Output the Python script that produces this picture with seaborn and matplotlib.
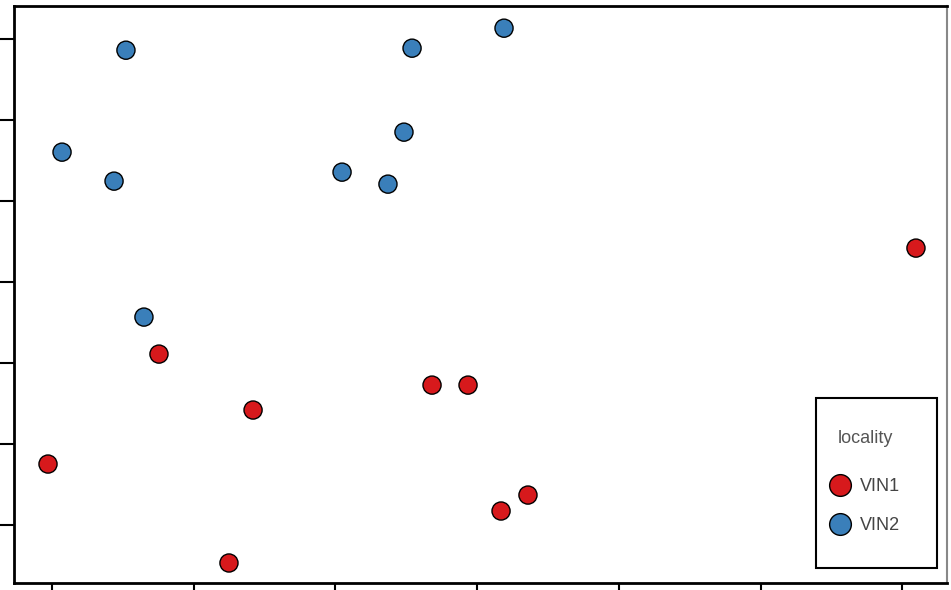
import matplotlib
matplotlib.use("Agg")
import matplotlib.pyplot as plt
from matplotlib.patches import Rectangle
import seaborn as sns
import pandas as pd

sns.set_theme(style="white")
plt.rcParams['font.family'] = ['Liberation Sans', 'DejaVu Sans']

locality = ["VIN2"] * 9 + ["VIN1"] * 9
x_vals = [0.522, 2.541, 3.190, 0.071, 0.438, 2.484, 2.047, 2.371, 0.649,
          0.755, 1.419, -0.028, 1.249, 2.682, 2.936, 3.169, 3.359, 6.097]
y_vals = [5.864, 5.889, 6.136, 4.605, 4.247, 4.852, 4.358, 4.210, 2.568,
          2.111, 1.420, 0.753, -0.469, 1.728, 1.728, 0.173, 0.370, 3.420]
x_ticks = [0, 1, 2, 3, 4, 5, 6]
y_ticks = [0, 1, 2, 3, 4, 5, 6]
hue_order = ["VIN1", "VIN2"]
palette = {"VIN1": "#d7191c", "VIN2": "#3a7fba"}

df = pd.DataFrame({"x": x_vals, "y": y_vals, "locality": locality})

W, H = 951, 590
fig = plt.figure(figsize=(W / 100, H / 100), dpi=100)
ax = fig.add_axes([14 / W, 7 / H, 933 / W, 577 / H])
sns.scatterplot(data=df, x="x", y="y", hue="locality", hue_order=hue_order,
                palette=palette, s=170, edgecolor="black", linewidth=1.0,
                ax=ax, zorder=3)
ax.set_xlim(-0.268, 6.316)
ax.set_ylim(-0.716, 6.41)
ax.set_xticks(x_ticks)
ax.set_yticks(y_ticks)
ax.set_xticklabels([])
ax.set_yticklabels([])
ax.set_xlabel("")
ax.set_ylabel("")
ax.tick_params(axis="both", direction="out", length=14, width=1.5, color="black",
               bottom=True, left=True)
for sp in ax.spines.values():
    sp.set_color("black")
    sp.set_linewidth(2)
ax.spines["right"].set_color("#888888")
ax.spines["right"].set_linewidth(1.5)

leg = ax.legend(title="locality", loc="upper left",
                bbox_to_anchor=(831 / W, 1 - 430 / H), bbox_transform=fig.transFigure,
                frameon=False, fontsize=13, title_fontsize=13,
                borderpad=0, labelspacing=1.2, handletextpad=0.6,
                handlelength=1.0, markerscale=1.2, borderaxespad=0)
leg.set_zorder(6)
leg._legend_box.sep = 22.6
leg.get_title().set_color("#555555")
for t in leg.get_texts():
    t.set_color("#444444")

# legend frame (decoration), drawn below the legend content
frame = Rectangle((816 / W, 1 - 568 / H), (937 - 816) / W, (568 - 398) / H,
                  transform=fig.transFigure, facecolor="white", edgecolor="black",
                  linewidth=1.5, zorder=5, clip_on=False)
ax.add_artist(frame)

fig.savefig("out.png", dpi=100)
